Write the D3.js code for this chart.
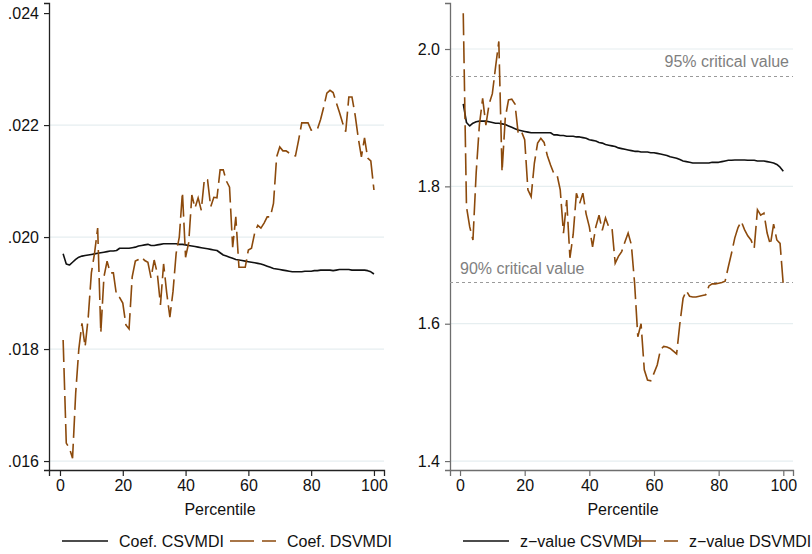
<!DOCTYPE html>
<html>
<head>
<meta charset="utf-8">
<script src="https://cdn.jsdelivr.net/npm/d3@7"></script>
<style>
  body { margin: 0; background: #fff; }
  svg { display: block; font-family: "Liberation Sans", Arial, sans-serif; }
</style>
</head>
<body>
<div id="chart"></div>
<script>
// Percentiles (x values)
const percentiles = [1,2,3,4,5,6,7,8,9,10,11,12,13,14,15,16,17,18,19,20,
  21,22,23,24,25,26,27,28,29,30,31,32,33,34,35,36,37,38,39,40,
  41,42,43,44,45,46,47,48,49,50,51,52,53,54,55,56,57,58,59,60,
  61,62,63,64,65,66,67,68,69,70,71,72,73,74,75,76,77,78,79,80,
  81,82,83,84,85,86,87,88,89,90,91,92,93,94,95,96,97,98,99,100];

// Left panel: coefficients
const coefCSVMDI = [.01970,.01952,.01950,.01955,.01960,.01964,.01966,.01967,.01968,.01969,
  .01970,.01971,.01972,.01973,.01974,.01975,.01975,.01976,.01980,.01980,
  .01980,.01980,.01981,.01982,.01984,.01985,.01986,.01987,.01985,.01985,
  .01986,.01987,.01988,.01988,.01988,.01988,.01988,.01987,.01987,.01986,
  .01985,.01984,.01983,.01982,.01981,.01980,.01979,.01978,.01977,.01976,
  .01972,.01968,.01966,.01964,.01962,.01960,.01959,.01958,.01957,.01956,
  .01955,.01954,.01953,.01952,.01950,.01948,.01946,.01944,.01943,.01942,
  .01941,.01940,.01939,.01938,.01938,.01938,.01938,.01939,.01939,.01939,
  .01940,.01940,.01941,.01941,.01941,.01941,.01940,.01941,.01942,.01942,
  .01942,.01942,.01941,.01941,.01941,.01941,.01941,.01940,.01938,.01934];

const coefDSVMDI = [.01816,.01632,.01623,.01605,.01721,.01800,.01846,.01804,.01857,.01936,
  .01971,.02016,.01829,.01929,.01957,.01936,.01936,.01896,.01892,.01882,
  .01843,.01836,.01929,.01957,.01960,.01964,.01958,.01955,.01927,.01959,
  .01935,.01879,.01952,.01900,.01857,.01903,.01971,.02000,.02080,.01964,
  .01990,.02075,.02052,.02070,.02048,.02104,.02102,.02054,.02071,.02070,
  .02120,.02120,.02100,.02089,.01982,.02036,.01946,.01946,.01946,.01977,
  .01980,.02007,.02021,.02016,.02025,.02036,.02036,.02060,.02143,.02161,
  .02154,.02154,.02150,.02146,.02145,.02173,.02204,.02204,.02204,.02191,
  .02192,.02193,.02210,.02232,.02257,.02262,.02258,.02240,.02223,.02204,
  .02188,.02250,.02250,.02218,.02177,.02143,.02177,.02141,.02136,.02084];

// Right panel: z-values
const zCSVMDI = [1.920,1.893,1.888,1.892,1.894,1.895,1.895,1.895,1.894,1.893,
  1.892,1.892,1.891,1.890,1.888,1.886,1.884,1.882,1.881,1.880,
  1.879,1.878,1.878,1.878,1.878,1.878,1.878,1.878,1.875,1.875,
  1.874,1.874,1.873,1.873,1.873,1.872,1.872,1.871,1.870,1.868,
  1.867,1.866,1.864,1.863,1.861,1.860,1.859,1.858,1.856,1.855,
  1.854,1.853,1.852,1.851,1.851,1.850,1.850,1.850,1.849,1.849,
  1.848,1.847,1.846,1.845,1.843,1.842,1.841,1.839,1.837,1.836,
  1.835,1.834,1.834,1.834,1.834,1.834,1.834,1.835,1.835,1.835,
  1.836,1.837,1.838,1.838,1.8385,1.8385,1.8385,1.8385,1.838,1.838,
  1.838,1.837,1.837,1.837,1.836,1.835,1.834,1.832,1.828,1.822];

const zDSVMDI = [2.052,1.770,1.741,1.722,1.820,1.890,1.928,1.889,1.920,1.935,
  1.974,2.011,1.821,1.900,1.926,1.927,1.920,1.877,1.880,1.868,
  1.795,1.785,1.834,1.863,1.870,1.864,1.845,1.831,1.819,1.817,
  1.795,1.732,1.780,1.696,1.730,1.790,1.775,1.790,1.760,1.741,
  1.712,1.741,1.758,1.736,1.754,1.741,1.740,1.688,1.698,1.705,
  1.719,1.732,1.715,1.659,1.581,1.600,1.533,1.518,1.517,1.528,
  1.540,1.562,1.567,1.566,1.564,1.560,1.556,1.600,1.637,1.648,
  1.640,1.639,1.639,1.640,1.641,1.642,1.655,1.658,1.658,1.659,
  1.660,1.662,1.683,1.703,1.725,1.740,1.749,1.737,1.728,1.722,
  1.710,1.766,1.758,1.761,1.732,1.715,1.745,1.722,1.717,1.656];

// Axis ticks and labels
const xTicks = [0, 20, 40, 60, 80, 100];
const leftYTicks = [.016, .018, .020, .022, .024];
const rightYTicks = [1.4, 1.6, 1.8, 2.0];
const criticalValues = [
  {value: 1.96, label: "95% critical value"},
  {value: 1.66, label: "90% critical value"}
];
const leftLegend = ["Coef. CSVMDI", "Coef. DSVMDI"];
const rightLegend = ["z\u2212value CSVMDI", "z\u2212value DSVMDI"];

const width = 812;
const height = 554;
const brown = "#8c4a0c";
const gridColor = "#e6eef0";
const dash = "22,6";

const svg = d3.select("#chart").append("svg")
    .attr("width", width)
    .attr("height", height)
    .attr("viewBox", [0, 0, width, height]);

// Draw one panel
function drawPanel(opts) {
    const x = d3.scaleLinear().domain(opts.xDomain).range(opts.xRange);
    const y = d3.scaleLinear().domain(opts.yDomain).range([470, 3]);
    const g = svg.append("g");

    // gridlines
    g.append("g")
        .selectAll("line")
        .data(opts.yTicks.filter(d => opts.gridTicks.includes(d)))
        .join("line")
        .attr("x1", opts.xRange[0])
        .attr("x2", opts.xRange[1])
        .attr("y1", d => y(d))
        .attr("y2", d => y(d))
        .attr("stroke", gridColor)
        .attr("stroke-width", 1.2);

    // y axis
    const yAxis = g.append("g")
        .attr("transform", `translate(${opts.xRange[0]},0)`)
        .call(d3.axisLeft(y).tickValues(opts.yTicks).tickFormat(opts.yFormat).tickSize(5).tickPadding(5));
    yAxis.select(".domain").attr("stroke", opts.axisColor).attr("stroke-width", 1.3);
    yAxis.selectAll(".tick line").attr("stroke", opts.axisColor).attr("stroke-width", 1.2);
    yAxis.selectAll("text").attr("font-size", 16).attr("fill", "#111").attr("font-family", "Liberation Sans, Arial, sans-serif");

    // x axis
    const xAxis = g.append("g")
        .attr("transform", "translate(0,470)")
        .call(d3.axisBottom(x).tickValues(xTicks).tickSize(6).tickPadding(4));
    xAxis.select(".domain").attr("stroke", opts.axisColor).attr("stroke-width", 1.3);
    xAxis.selectAll(".tick line").attr("stroke", opts.axisColor).attr("stroke-width", 1.2);
    xAxis.selectAll("text").attr("font-size", 16).attr("fill", "#111").attr("font-family", "Liberation Sans, Arial, sans-serif");

    // x title
    g.append("text")
        .attr("x", opts.titleX)
        .attr("y", 515)
        .attr("text-anchor", "middle")
        .attr("font-size", 16)
        .attr("fill", "#111")
        .text("Percentile");

    // critical value lines
    if (opts.critical) {
        opts.critical.forEach((c, i) => {
            g.append("line")
                .attr("x1", opts.xRange[0])
                .attr("x2", opts.xRange[1])
                .attr("y1", y(c.value))
                .attr("y2", y(c.value))
                .attr("stroke", "#9a9a9a")
                .attr("stroke-width", 1.2)
                .attr("stroke-dasharray", "3,3");
            g.append("text")
                .attr("x", i === 0 ? opts.xRange[1] - 4 : opts.xRange[0] + 10)
                .attr("y", y(c.value) - 9)
                .attr("text-anchor", i === 0 ? "end" : "start")
                .attr("font-size", 16)
                .attr("fill", "#7f7f7f")
                .text(c.label);
        });
    }

    const line = d3.line()
        .x((d, i) => x(percentiles[i]))
        .y(d => y(d));

    g.append("path")
        .datum(opts.solid)
        .attr("fill", "none")
        .attr("stroke", "#111")
        .attr("stroke-width", 1.6)
        .attr("stroke-linejoin", "round")
        .attr("d", line);

    g.append("path")
        .datum(opts.dashed)
        .attr("fill", "none")
        .attr("stroke", brown)
        .attr("stroke-width", 1.6)
        .attr("stroke-dasharray", dash)
        .attr("d", line);

    // legend
    const lg = g.append("g").attr("transform", "translate(0,541)");
    lg.append("line")
        .attr("x1", opts.legendX[0]).attr("x2", opts.legendX[0] + 46)
        .attr("stroke", "#111").attr("stroke-width", 1.6);
    lg.append("text")
        .attr("x", opts.legendX[0] + 57).attr("y", 5.5)
        .attr("font-size", 16).attr("fill", "#111")
        .text(opts.legend[0]);
    lg.append("line")
        .attr("x1", opts.legendX[1]).attr("x2", opts.legendX[1] + 46)
        .attr("stroke", brown).attr("stroke-width", 1.6)
        .attr("stroke-dasharray", "24,8");
    lg.append("text")
        .attr("x", opts.legendX[1] + 57).attr("y", 5.5)
        .attr("font-size", 16).attr("fill", "#111")
        .text(opts.legend[1]);
}

drawPanel({
    xDomain: [-3.5, 103.2],
    xRange: [49, 384],
    yDomain: [0.01584, 0.02418],
    yTicks: leftYTicks,
    gridTicks: [.016, .018, .020, .022],
    yFormat: d => d3.format(".3f")(d).replace(/^0/, ""),
    axisColor: "#222",
    titleX: 220,
    solid: coefCSVMDI,
    dashed: coefDSVMDI,
    legend: leftLegend,
    legendX: [62, 230]
});

drawPanel({
    xDomain: [-3.1, 103],
    xRange: [450, 793],
    yDomain: [1.387, 2.067],
    yTicks: rightYTicks,
    gridTicks: rightYTicks,
    yFormat: d3.format(".1f"),
    axisColor: "#6e6e6e",
    titleX: 623,
    solid: zCSVMDI,
    dashed: zDSVMDI,
    critical: criticalValues,
    legend: rightLegend,
    legendX: [463, 632]
});
</script>
</body>
</html>
